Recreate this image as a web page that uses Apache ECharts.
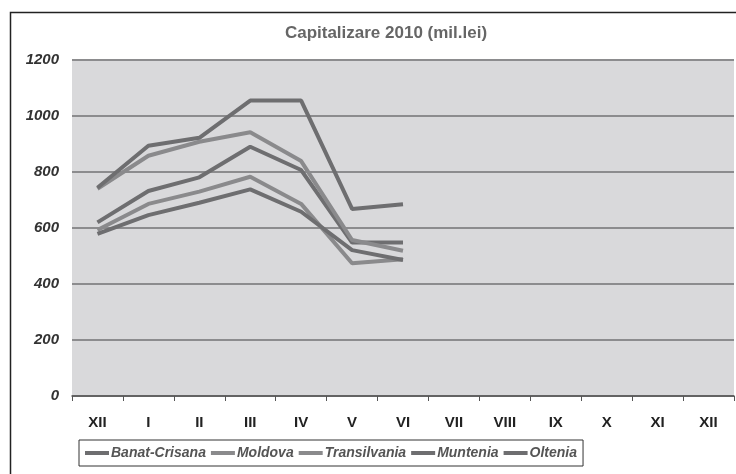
<!DOCTYPE html>
<html>
<head>
<meta charset="utf-8">
<script src="https://cdn.jsdelivr.net/npm/echarts@6/dist/echarts.min.js"></script>
<style>
  html, body { margin: 0; padding: 0; background: #fff; }
  #chart { width: 736px; height: 474px; }
</style>
</head>
<body>
<div id="chart"></div>
<script>
const months = ["XII", "I", "II", "III", "IV", "V", "VI", "VII", "VIII", "IX", "X", "XI", "XII"]
const seriesNames = ["Banat-Crisana", "Moldova", "Transilvania", "Muntenia", "Oltenia"]

// values in mil. lei, only Dec 2009 - Jun 2010 reported
const banatCrisana = [620, 732, 781, 890, 807, 548, 548]
const moldova = [593, 686, 730, 783, 686, 474, 488]
const transilvania = [740, 858, 908, 942, 839, 557, 519]
const muntenia = [744, 894, 922, 1055, 1055, 668, 685]
const oltenia = [579, 646, 690, 738, 658, 521, 486]

const yTicks = [0, 200, 400, 600, 800, 1000, 1200]

const dark = "#6e6e70"
const light = "#8a8a8c"
const colors = [dark, light, light, dark, dark]
const values = [banatCrisana, moldova, transilvania, muntenia, oltenia]

const chart = echarts.init(document.getElementById("chart"), null, { renderer: "canvas" })

const option = {
  animation: false,
  backgroundColor: "#fff",
  title: {
    text: "Capitalizare 2010 (mil.lei)",
    left: 381,
    top: 20,
    textAlign: "center",
    textStyle: {
      color: "#666",
      fontFamily: "Liberation Sans",
      fontSize: 17,
      fontWeight: "bold"
    }
  },
  graphic: [
    {
      type: "rect",
      shape: { x: 10.5, y: 12.5, width: 740, height: 480 },
      style: { fill: "none", stroke: "#222", lineWidth: 1.5 },
      z: 0
    }
  ],
  grid: {
    left: 72,
    right: 2,
    top: 60,
    bottom: 78,
    show: true,
    backgroundColor: "#d9d9db",
    borderWidth: 0
  },
  legend: {
    data: seriesNames,
    left: 79,
    top: 440,
    padding: [6, 6, 6, 6],
    itemGap: 5,
    itemWidth: 24,
    itemHeight: 4,
    borderColor: "#333",
    borderWidth: 1,
    borderRadius: 0,
    icon: "rect",
    textStyle: {
      color: "#555",
      fontFamily: "Liberation Sans",
      fontSize: 14,
      fontStyle: "italic",
      fontWeight: "bold",
      padding: [0, 0, 0, -3]
    }
  },
  xAxis: {
    type: "category",
    data: months,
    boundaryGap: true,
    axisLine: { lineStyle: { color: "#555", width: 1.5 } },
    axisTick: { show: true, length: 5, lineStyle: { color: "#555" } },
    axisLabel: {
      color: "#222",
      fontFamily: "Liberation Sans Narrow, Liberation Sans",
      fontSize: 15,
      fontWeight: "bold",
      margin: 19
    },
    splitLine: { show: false }
  },
  yAxis: {
    type: "value",
    min: yTicks[0],
    max: yTicks[yTicks.length - 1],
    interval: 200,
    axisLine: { show: false },
    axisTick: { show: false },
    axisLabel: {
      color: "#333",
      fontFamily: "Liberation Sans",
      fontSize: 15,
      fontStyle: "italic",
      fontWeight: "bold",
      margin: 13,
      formatter: (v) => String(v)
    },
    splitLine: { lineStyle: { color: "#8c8c8e", width: 2 } }
  },
  series: seriesNames.map((name, i) => ({
    name: name,
    type: "line",
    data: values[i],
    symbol: "none",
    lineStyle: { color: colors[i], width: 4 },
    itemStyle: { color: colors[i] }
  }))
}

chart.setOption(option)
</script>
</body>
</html>
